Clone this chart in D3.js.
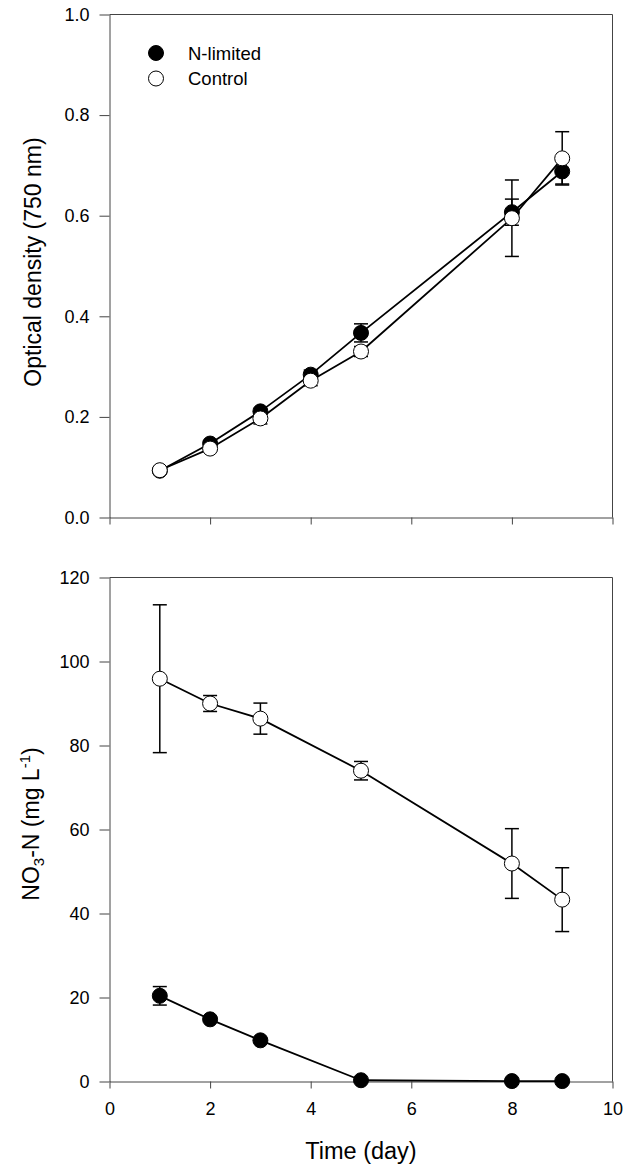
<!DOCTYPE html>
<html>
<head>
<meta charset="utf-8">
<script src="https://cdn.jsdelivr.net/npm/d3@7"></script>
<style>
  html, body { margin: 0; padding: 0; background: #fff; }
  svg { display: block; }
  text { font-family: "Liberation Sans", Arial, sans-serif; fill: #000; }
</style>
</head>
<body>
<svg id="chart" width="625" height="1166"></svg>
<script>
// ---- Data ----
const odDays = [1, 2, 3, 4, 5, 8, 9];
const odNlimited = [0.093, 0.147, 0.211, 0.284, 0.367, 0.607, 0.688];
const odNlimitedErr = [0.003, 0.006, 0.006, 0.009, 0.018, 0.026, 0.025];
const odControl = [0.094, 0.137, 0.197, 0.272, 0.330, 0.595, 0.714];
const odControlErr = [0.004, 0.005, 0.011, 0.010, 0.010, 0.076, 0.053];

const no3Days = [1, 2, 3, 5, 8, 9];
const no3Nlimited = [20.4, 14.8, 9.8, 0.3, 0.1, 0.1];
const no3NlimitedErr = [2.2, 0.5, 0.5, 0, 0, 0];
const no3Control = [95.9, 90.0, 86.4, 74.0, 51.9, 43.3];
const no3ControlErr = [17.6, 1.9, 3.7, 2.2, 8.3, 7.6];

const xTicks = [0, 2, 4, 6, 8, 10];
const odTicks = [0.0, 0.2, 0.4, 0.6, 0.8, 1.0];
const no3Ticks = [0, 20, 40, 60, 80, 100, 120];
const seriesNames = ["N-limited", "Control"];

// ---- Layout ----
const svg = d3.select("#chart");
const left = 109.5, right = 612.5;
const x = d3.scaleLinear().domain([0, 10]).range([left, right]);
const yTop = d3.scaleLinear().domain([0, 1]).range([517.5, 14.5]);
const yBot = d3.scaleLinear().domain([0, 120]).range([1081.5, 577.5]);
const axisColor = "#444";
const r = 7.5;

function panel(y, yTicks, yFmt, showXLabels) {
  const g = svg.append("g");
  g.append("line").attr("x1", left).attr("x2", right).attr("y1", y.range()[1]).attr("y2", y.range()[1])
    .attr("stroke", axisColor).attr("stroke-width", 1);
  g.append("line").attr("x1", right).attr("x2", right).attr("y1", y.range()[0]).attr("y2", y.range()[1])
    .attr("stroke", axisColor).attr("stroke-width", 1);
  const ya = g.append("g").attr("transform", `translate(${left},0)`)
    .call(d3.axisLeft(y).tickValues(yTicks).tickFormat(yFmt).tickSize(10).tickPadding(10).tickSizeOuter(0));
  ya.select(".domain").attr("stroke", axisColor);
  ya.selectAll(".tick line").attr("stroke", axisColor);
  ya.selectAll("text").style("font-size", "18px").style("font-family", '"Liberation Sans", Arial, sans-serif');
  const xa = g.append("g").attr("transform", `translate(0,${y.range()[0]})`)
    .call(d3.axisBottom(x).tickValues(xTicks).tickFormat(showXLabels ? d3.format("d") : () => "").tickSize(7).tickSizeOuter(0));
  xa.select(".domain").attr("stroke", axisColor);
  xa.selectAll(".tick line").attr("stroke", axisColor);
  xa.selectAll("text").style("font-size", "18px").style("font-family", '"Liberation Sans", Arial, sans-serif')
    .attr("y", 33).attr("dy", 0);
  return g;
}

function series(g, y, days, vals, errs) {
  const line = d3.line().x((d, i) => x(days[i])).y(d => y(d));
  g.append("path").datum(vals).attr("d", line).attr("fill", "none")
    .attr("stroke", "#000").attr("stroke-width", 1.8).attr("stroke-linejoin", "round");
  const eb = g.append("g");
  days.forEach((d, i) => {
    const e = errs[i];
    if (!e) return;
    const cx = x(d), y1 = y(vals[i] + e), y0 = y(vals[i] - e);
    eb.append("line").attr("x1", cx).attr("x2", cx).attr("y1", y1).attr("y2", y0)
      .attr("stroke", "#000").attr("stroke-width", 1.5);
    [y1, y0].forEach(yy => eb.append("line").attr("x1", cx - 7).attr("x2", cx + 7)
      .attr("y1", yy).attr("y2", yy).attr("stroke", "#000").attr("stroke-width", 1.5));
  });
}

function markers(g, y, days, vals, filled) {
  g.append("g").selectAll("circle").data(vals).join("circle")
    .attr("cx", (d, i) => x(days[i])).attr("cy", d => y(d)).attr("r", r)
    .attr("fill", filled ? "#000" : "#fff").attr("stroke", "#000").attr("stroke-width", 1);
}

// Top panel
const gTop = panel(yTop, odTicks, d3.format(".1f"), false);
series(gTop, yTop, odDays, odNlimited, odNlimitedErr);
series(gTop, yTop, odDays, odControl, odControlErr);
markers(gTop, yTop, odDays, odNlimited, true);
markers(gTop, yTop, odDays, odControl, false);

// Legend
const leg = svg.append("g");
seriesNames.forEach((name, i) => {
  const ly = 53 + i * 25.5;
  leg.append("circle").attr("cx", 156).attr("cy", ly).attr("r", 7.5)
    .attr("fill", i === 0 ? "#000" : "#fff").attr("stroke", "#000").attr("stroke-width", 1);
  leg.append("text").attr("x", 188).attr("y", ly + 6.5).style("font-size", "18.5px").text(name);
});

// Bottom panel
const gBot = panel(yBot, no3Ticks, d3.format("d"), true);
series(gBot, yBot, no3Days, no3Nlimited, no3NlimitedErr);
series(gBot, yBot, no3Days, no3Control, no3ControlErr);
markers(gBot, yBot, no3Days, no3Nlimited, true);
markers(gBot, yBot, no3Days, no3Control, false);

// Axis titles
svg.append("text").attr("transform", "translate(41,262) rotate(-90)")
  .attr("text-anchor", "middle").style("font-size", "23px").text("Optical density (750 nm)");

const t2 = svg.append("text").attr("transform", "translate(39,824) rotate(-90)")
  .attr("text-anchor", "middle").style("font-size", "23px");
t2.append("tspan").text("NO");
t2.append("tspan").attr("dy", 5).style("font-size", "15px").text("3");
t2.append("tspan").attr("dy", -5).text("-N (mg L");
t2.append("tspan").attr("dy", -9).style("font-size", "15px").text("-1");
t2.append("tspan").attr("dy", 9).text(")");

svg.append("text").attr("x", 361).attr("y", 1159).attr("text-anchor", "middle")
  .style("font-size", "23.5px").text("Time (day)");
</script>
</body>
</html>
